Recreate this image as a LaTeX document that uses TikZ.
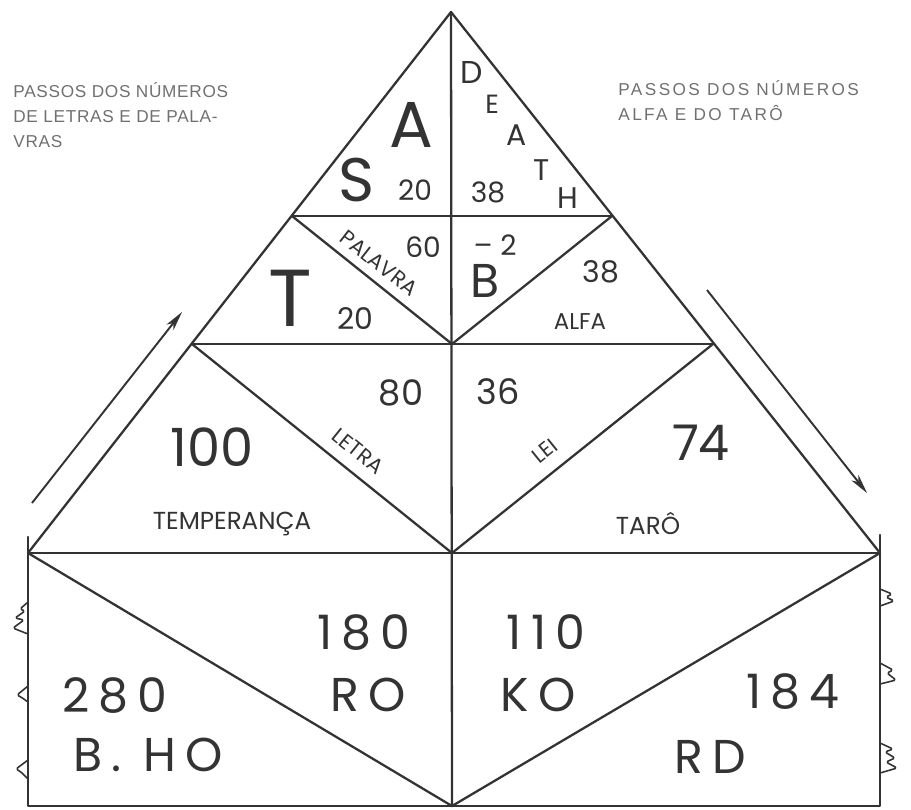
\documentclass[tikz,border=0pt]{standalone}
\usepackage{fontspec}
\setmainfont{Liberation Sans}
\newfontfamily\hand{Poppins}
\usetikzlibrary{arrows.meta}

\definecolor{tinta}{HTML}{333333}
\definecolor{cinza}{HTML}{707070}
\newcommand\tam[1]{\fontsize{#1}{#1}\selectfont}

\tikzset{
	linha/.style={line width=1.3pt, draw=tinta, line cap=round, line join=round},
	zigue/.style={line width=0.9pt, draw=tinta, line join=round, rounded corners=1pt},
	seta/.style={line width=1.1pt, draw=tinta, -{Stealth[length=11pt, width=5pt, inset=3pt]}},
	hand/.style={font={\hand\tam{#1}}, text=tinta, inner sep=0pt},
	largo/.style={font={\hand\tam{27pt}\addfontfeature{LetterSpace=19}}, text=tinta, inner sep=0pt},
	nota/.style={text=cinza, align=left, inner sep=0pt, anchor=north west},
}

\begin{document}
\begin{tikzpicture}[x=0.02cm, y=-0.02cm]
	% параметры: 1 единица = 1 пиксель
	\useasboundingbox (0,0) rectangle (911,809);

	% вершины
	\coordinate (apice) at (451,12);
	\coordinate (e1) at (292,216);  \coordinate (c1) at (452,216);  \coordinate (d1) at (612,216);
	\coordinate (e2) at (192,344);  \coordinate (c2) at (452,344);  \coordinate (d2) at (713,344);
	\coordinate (e3) at (28,553);   \coordinate (c3) at (452,553);  \coordinate (d3) at (880,553);
	\coordinate (e4) at (28,806);   \coordinate (c4) at (452,806);  \coordinate (d4) at (880,806);
	\coordinate (e3t) at (28,537);  \coordinate (d3t) at (880,535);

	% треугольник и полосы
	\draw[linha] (e3) -- (apice) -- (d3);
	\draw[linha] (apice) -- (c4);
	\draw[linha] (e1) -- (d1) (e2) -- (d2) (e3) -- (d3);
	\draw[linha] (e1) -- (c2) -- (d1);
	\draw[linha] (e2) -- (c3) -- (d2);

	% прямоугольник снизу
	\draw[linha] (e3t) -- (e4) -- (d4) -- (d3t);
	\draw[linha] (e3) -- (c4) -- (d3);

	% зигзаги по бокам
	\draw[zigue] (28,602) -- (20,609) -- (25,611) -- (15,618) -- (24,620) -- (13,628) -- (28,634);
	\draw[zigue] (28,686) -- (17,695) -- (21,697) -- (28,702);
	\draw[zigue] (28,760) -- (16,769) -- (21,772) -- (28,779);
	\draw[zigue] (880,589) -- (892,594) -- (886,597) -- (894,601) -- (880,606);
	\draw[zigue] (880,663) -- (893,670) -- (887,673) -- (896,680) -- (880,684);
	\draw[zigue] (880,743) -- (893,749) -- (885,752) -- (895,758) -- (886,762) -- (897,768) -- (880,773);

	% стрелки
	\coordinate (se0) at (32,503);  \coordinate (se1) at (182,312);
	\coordinate (sd0) at (707,290); \coordinate (sd1) at (867,493);
	\draw[seta] (se0) -- (se1);
	\draw[seta] (sd0) -- (sd1);

	% подписи серым
	\node[nota, font={\fontsize{9.8pt}{14.2pt}\selectfont\addfontfeature{LetterSpace=4}}] (notaE) at (13,82)
		{PASSOS DOS NÚMEROS\\DE LETRAS E DE PALA-\\VRAS};
	\node[nota, font={\fontsize{9.8pt}{14.2pt}\selectfont\addfontfeature{LetterSpace=14}}] (notaD) at (618,80)
		{PASSOS DOS NÚMEROS\\ALFA E DO TARÔ};

	% верхний треугольник
	\node[hand=37pt] (letraA) at (411,125) {A};
	\node[hand=35pt] (letraS) at (357,180) {S};
	\node[hand=16pt] (n20a) at (415,190) {20};
	\node[hand=16pt] (n38a) at (488,192) {38};
	\node[hand=18pt] (mD) at (472,72) {D};
	\node[hand=15pt] (mE) at (492,104) {E};
	\node[hand=17pt] (mA) at (517,135) {A};
	\node[hand=17pt] (mT) at (542,170) {T};
	\node[hand=17pt] (mH) at (568,198) {H};

	% вторая полоса
	\node[hand=46pt] (letraT) at (290,298) {T};
	\node[hand=17pt] (n20b) at (355,318) {20};
	\node[hand=12pt, rotate=-38] (palavra) at (379,263) {PALAVRA};
	\node[hand=16pt] (n60) at (423,247) {60};
	\node[hand=16pt] (menos2) at (495,245) {–\;2};
	\node[hand=27pt] (letraB) at (485,281) {B};
	\node[hand=17pt] (n38b) at (601,272) {38};
	\node[hand=13pt] (alfa) at (580,322) {ALFA};

	% третья полоса
	\node[hand=20pt] (n80) at (401,393) {80};
	\node[hand=20pt] (n36) at (498,392) {36};
	\node[hand=30pt] (n100) at (212,447) {100};
	\node[hand=28pt] (n74) at (701,443) {74};
	\node[hand=12pt, rotate=-39] (letra) at (358,451) {LETRA};
	\node[hand=12pt, rotate=39] (lei) at (545,451) {LEI};
	\node[hand=14pt] (temperanca) at (232,524) {TEMPERANÇA};
	\node[hand=14pt] (taro) at (648,524) {TARÔ};

	% прямоугольник
	\node[largo] (n180) at (364,633) {180};
	\node[largo] (ro) at (368,695) {RO};
	\node[largo] (n110) at (546,632) {110};
	\node[largo] (ko) at (538,695) {KO};
	\node[largo] (n280) at (115,695) {280};
	\node[largo] (bho) at (148,755) {B. HO};
	\node[largo] (n184) at (793,692) {184};
	\node[largo] (rd) at (710,757) {RD};
\end{tikzpicture}
\end{document}
